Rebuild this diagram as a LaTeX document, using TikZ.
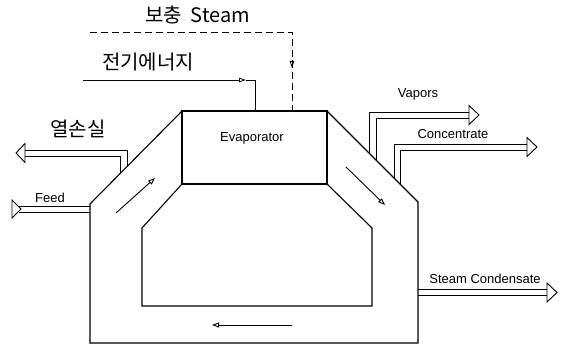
\documentclass[tikz,border=0pt]{standalone}
\usepackage{fontspec}
\setmainfont{Liberation Sans}
\newfontfamily\krfont{Noto Sans CJK KR}
\usetikzlibrary{arrows.meta}
\begin{document}
\begin{tikzpicture}[x=1pt,y=-1pt,
  wall/.style={line width=1.1pt, line join=miter},
  pipe/.style={line width=0.9pt},
  pipetip/.style={line width=0.9pt, fill=white, line join=miter},
  flow/.style={line width=0.9pt, -{Triangle[open,length=7pt,width=5pt]}},
  feedline/.style={line width=0.8pt},
  lbl/.style={font=\fontsize{13}{15}\selectfont, inner sep=0pt, anchor=base},
  krlbl/.style={font=\krfont\fontsize{20}{24}\selectfont, inner sep=0pt, anchor=base},
]
\useasboundingbox (0,0) rectangle (563,345);

% evaporator box
\node[draw, wall, minimum width=145pt, minimum height=73pt, inner sep=0pt, outer sep=0pt] (evap) at (254.5,147.5) {};
\node[lbl] (evaptext) at (252,142) {Evaporator};

% outer and inner walls of the loop
\coordinate (oR1) at (418,202);
\coordinate (oR2) at (418,343);
\coordinate (oL2) at (90,343);
\coordinate (oL1) at (90,204);
\draw[wall] (evap.north east) -- (oR1) -- (oR2) -- (oL2) -- (oL1) -- (evap.north west);
\coordinate (iL1) at (142,228);
\coordinate (iL2) at (142,306);
\coordinate (iR2) at (372,306);
\coordinate (iR1) at (372,228);
\draw[wall] (evap.south west) -- (iL1) -- (iL2) -- (iR2) -- (iR1) -- (evap.south east);

% heat loss pipe
\draw[pipe] (127,166.6) -- (127,150) -- (25,150);
\draw[pipe] (120,173.7) -- (120,156) -- (25,156);
\draw[pipetip] (25,143.5) -- (25,162.5) -- (16,153) -- cycle;

% feed pipe
\draw[pipe] (19,206) -- (oL1 |- 0,206);
\draw[pipe] (19,212) -- (oL1 |- 0,212);
\draw[pipetip] (12,200) -- (12,218) -- (21,209) -- cycle;

% vapors pipe
\draw[pipe] (369,153) -- (369,112) -- (469,112);
\draw[pipe] (376,160) -- (376,118) -- (469,118);
\draw[pipetip] (469,105.5) -- (469,124.5) -- (479,115) -- cycle;

% concentrate pipe
\draw[pipe] (394,178) -- (394,144) -- (527,144);
\draw[pipe] (400,184) -- (400,150) -- (527,150);
\draw[pipetip] (527,137.5) -- (527,156.5) -- (537,147) -- cycle;

% steam condensate pipe
\draw[pipe] (oR1 |- 0,289.5) -- (547,289.5);
\draw[pipe] (oR1 |- 0,295.5) -- (547,295.5);
\draw[pipetip] (547,283) -- (547,302) -- (557,292.5) -- cycle;

% electric energy line
\coordinate (e0) at (83,80);
\coordinate (e1) at (246,80);
\coordinate (e2) at (255,80);
\draw[feedline, -{Triangle[open,length=7pt,width=4.5pt]}] (e0) -- (e1);
\draw[feedline] (e1) -- (e2) -- (e2 |- evap.north);

% make-up steam line
\coordinate (s0) at (90,32);
\coordinate (s1) at (292,32);
\draw[feedline, dash pattern=on 7pt off 4pt] (s0) -- (s1) -- (s1 |- evap.north);
\draw[feedline, -{Triangle[open,length=7pt,width=4.5pt]}] (292,60) -- (292,68);

% circulation arrows
\draw[flow] (116,213) -- (155,178);
\draw[flow] (346,167) -- (385,205);
\draw[flow] (292,325) -- (212,325);

% labels
\node[krlbl] (lsteam) at (197.5,23) {보충\hspace{0.45em}Steam};
\node[krlbl] (lelec) at (148,70) {전기에너지};
\node[krlbl] (lloss) at (78,136) {열손실};
\node[lbl] (lvap) at (418,98) {Vapors};
\node[lbl] (lconc) at (453,139) {Concentrate};
\node[lbl] (lcond) at (485,283) {Steam Condensate};
\node[lbl] (lfeed) at (50,202) {Feed};
\end{tikzpicture}
\end{document}
